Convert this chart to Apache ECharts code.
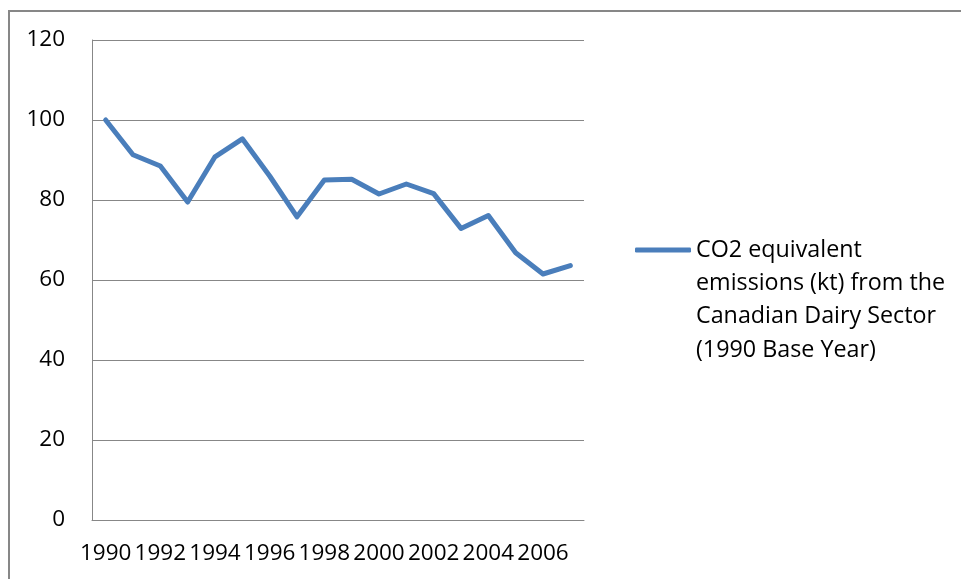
<!DOCTYPE html>
<html>
<head>
<meta charset="utf-8">
<script src="https://cdn.jsdelivr.net/npm/echarts@6/dist/echarts.min.js"></script>
<style>
  html, body { margin: 0; padding: 0; background: #fff; }
  #chart { width: 961px; height: 579px; }
</style>
</head>
<body>
<div id="chart"></div>
<script>
// Years on the category axis
const years = ['1990','1991','1992','1993','1994','1995','1996','1997','1998',
               '1999','2000','2001','2002','2003','2004','2005','2006','2007'];
// Emissions index (1990 = 100)
const emissions = [100, 91.3, 88.5, 79.5, 90.8, 95.3, 86, 75.8, 85,
                   85.2, 81.5, 84, 81.6, 72.9, 76.1, 66.8, 61.5, 63.6];
const seriesName = 'CO2 equivalent\nemissions (kt) from the\nCanadian Dairy Sector\n(1990 Base Year)';
const yMin = 0, yMax = 120, yStep = 20;

const FONT = '"Open Sans", sans-serif';
const GRAY = '#878787';
const LEGEND_LINE = 33.3;

const chart = echarts.init(document.getElementById('chart'), null, { renderer: 'canvas' });
chart.setOption({
  animation: false,
  backgroundColor: '#ffffff',
  textStyle: { fontFamily: FONT, color: '#000' },
  graphic: [{
    type: 'rect',
    shape: { x: 9, y: 11, width: 1000, height: 700 },
    style: { fill: 'none', stroke: GRAY, lineWidth: 2 },
    silent: true
  }],
  grid: { left: 92, right: 377, top: 40, bottom: 59, containLabel: false },
  legend: {
    left: 635,
    top: 250 - 3.5 * LEGEND_LINE,
    padding: 0,
    icon: 'roundRect',
    itemWidth: 56,
    itemHeight: 5,
    // three leading blank lines put the icon level with the first text line
    formatter: name => '\n\n\n' + name,
    textStyle: {
      fontFamily: FONT, fontSize: 23.3, color: '#000',
      lineHeight: LEGEND_LINE
    },
    data: [seriesName]
  },
  xAxis: {
    type: 'category',
    data: years,
    boundaryGap: true,
    axisLine: { show: true, lineStyle: { color: GRAY, width: 1 } },
    axisTick: { show: false },
    axisLabel: {
      interval: 1, margin: 22, hideOverlap: false,
      fontFamily: FONT, fontSize: 22.5, color: '#000'
    },
    splitLine: { show: false }
  },
  yAxis: {
    type: 'value',
    min: yMin, max: yMax, interval: yStep,
    axisLine: { show: true, lineStyle: { color: GRAY, width: 1 } },
    axisTick: { show: false },
    axisLabel: { margin: 27, fontFamily: FONT, fontSize: 22.5, color: '#000' },
    splitLine: { show: true, lineStyle: { color: GRAY, width: 1 } }
  },
  series: [{
    name: seriesName,
    type: 'line',
    data: emissions,
    symbol: 'none',
    smooth: false,
    lineStyle: { color: '#4a7ebb', width: 5, join: 'round', cap: 'round' },
    itemStyle: { color: '#4a7ebb' }
  }]
});
</script>
</body>
</html>
